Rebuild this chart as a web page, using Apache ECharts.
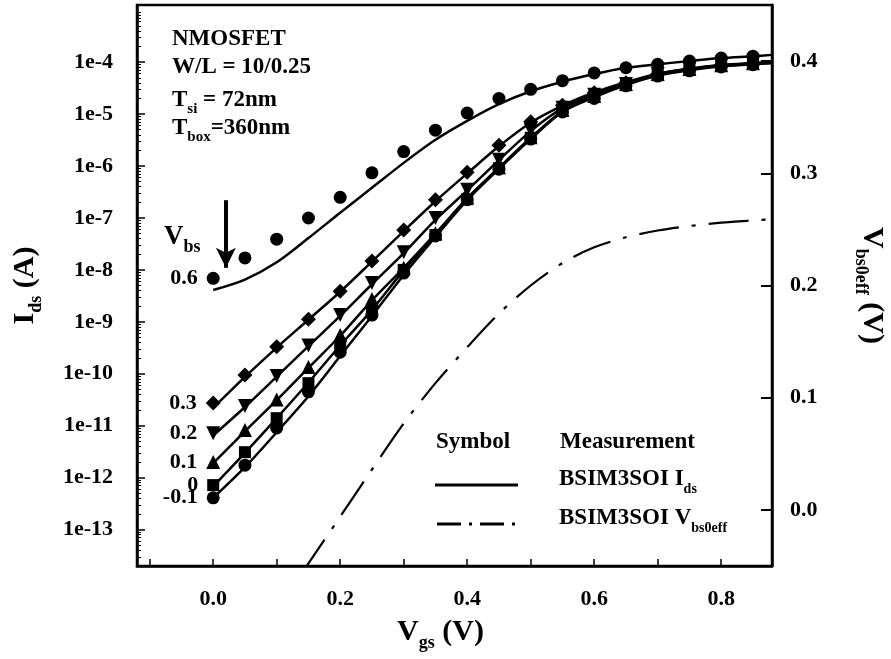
<!DOCTYPE html>
<html>
<head>
<meta charset="utf-8">
<script src="https://cdn.jsdelivr.net/npm/echarts@6/dist/echarts.min.js"></script>
<style>
  html, body { margin: 0; padding: 0; background: #fff; }
  #chart { width: 891px; height: 659px; }
</style>
</head>
<body>
<div id="chart"></div>
<script>
// Vgs sweep of the measurement points (V)
const vgsMeas = [0, 0.05, 0.1, 0.15, 0.2, 0.25, 0.3, 0.35, 0.4, 0.45, 0.5, 0.55, 0.6, 0.65, 0.7, 0.75, 0.8, 0.85];
// Vgs of the BSIM3SOI model curves (V)
const vgsModel = [0, 0.05, 0.1, 0.15, 0.2, 0.25, 0.3, 0.35, 0.4, 0.45, 0.5, 0.55, 0.6, 0.65, 0.7, 0.75, 0.8, 0.85, 0.88];

// measured Ids (A) for each Vbs
const measVbs06 = [6.9e-9, 1.7e-8, 3.9e-8, 1.0e-7, 2.5e-7, 7.4e-7, 1.9e-6, 4.9e-6, 1.05e-5, 2.0e-5, 3.0e-5, 4.4e-5, 6.2e-5, 7.8e-5, 9.1e-5, 1.05e-4, 1.2e-4, 1.3e-4];
const measVbs03 = [2.75e-11, 9.5e-11, 3.3e-10, 1.12e-9, 3.9e-9, 1.48e-8, 5.9e-8, 2.24e-7, 7.6e-7, 2.5e-6, 7.1e-6, 1.48e-5, 2.57e-5, 4.0e-5, 5.9e-5, 7.4e-5, 8.7e-5, 9.5e-5];
const measVbs02 = [7.2e-12, 2.4e-11, 9.1e-11, 3.5e-10, 1.35e-9, 5.6e-9, 2.2e-8, 1.0e-7, 3.5e-7, 1.32e-6, 4.9e-6, 1.32e-5, 2.35e-5, 3.8e-5, 5.9e-5, 7.4e-5, 8.7e-5, 9.5e-5];
const measVbs01 = [2.0e-12, 8.3e-12, 3.2e-11, 1.35e-10, 5.6e-10, 2.75e-9, 1.1e-8, 5.1e-8, 2.5e-7, 9.5e-7, 3.6e-6, 1.2e-5, 2.24e-5, 3.8e-5, 5.9e-5, 7.4e-5, 8.7e-5, 9.5e-5];
const measVbs0 = [7.2e-13, 3.1e-12, 1.4e-11, 6.6e-11, 3.4e-10, 1.55e-9, 1.0e-8, 4.7e-8, 2.3e-7, 9.1e-7, 3.5e-6, 1.15e-5, 2.14e-5, 3.6e-5, 5.6e-5, 7.1e-5, 8.5e-5, 9.3e-5];
const measVbsM01 = [4.1e-13, 1.74e-12, 9.1e-12, 4.5e-11, 2.6e-10, 1.35e-9, 8.7e-9, 4.5e-8, 2.24e-7, 8.7e-7, 3.3e-6, 1.1e-5, 2.0e-5, 3.5e-5, 5.4e-5, 6.8e-5, 8.1e-5, 8.9e-5];

// BSIM3SOI model Ids (A)
const modelVbs06 = [4.1e-9, 6.5e-9, 1.4e-8, 4.1e-8, 1.26e-7, 3.8e-7, 1.15e-6, 3.2e-6, 7.4e-6, 1.55e-5, 2.75e-5, 4.2e-5, 5.9e-5, 7.8e-5, 9.1e-5, 1.05e-4, 1.2e-4, 1.3e-4, 1.38e-4];
const modelVbs03 = [2.2e-11, 8.7e-11, 3.2e-10, 1.1e-9, 3.8e-9, 1.45e-8, 5.6e-8, 2.1e-7, 7.2e-7, 2.4e-6, 6.8e-6, 1.45e-5, 2.6e-5, 4.1e-5, 6.0e-5, 7.5e-5, 8.8e-5, 9.6e-5, 1.0e-4];
const modelVbs02 = [6.5e-12, 2.3e-11, 8.8e-11, 3.4e-10, 1.3e-9, 5.3e-9, 2.1e-8, 9.2e-8, 3.4e-7, 1.3e-6, 4.7e-6, 1.3e-5, 2.4e-5, 3.9e-5, 5.9e-5, 7.4e-5, 8.7e-5, 9.5e-5, 9.9e-5];
const modelVbs01 = [1.9e-12, 7.8e-12, 3.1e-11, 1.3e-10, 5.4e-10, 2.6e-9, 1.1e-8, 5.0e-8, 2.4e-7, 9.3e-7, 3.5e-6, 1.15e-5, 2.25e-5, 3.8e-5, 5.8e-5, 7.3e-5, 8.6e-5, 9.4e-5, 9.8e-5];
const modelVbs0 = [6.8e-13, 3.0e-12, 1.4e-11, 6.8e-11, 3.5e-10, 1.7e-9, 9.8e-9, 4.6e-8, 2.3e-7, 9.0e-7, 3.4e-6, 1.12e-5, 2.2e-5, 3.7e-5, 5.7e-5, 7.2e-5, 8.5e-5, 9.3e-5, 9.7e-5];
const modelVbsM01 = [4.1e-13, 1.6e-12, 7.5e-12, 3.7e-11, 2.2e-10, 1.3e-9, 8.0e-9, 4.3e-8, 2.2e-7, 8.8e-7, 3.3e-6, 1.1e-5, 2.1e-5, 3.6e-5, 5.5e-5, 7.0e-5, 8.3e-5, 9.1e-5, 9.5e-5];

// BSIM3SOI Vbs0eff (V), right axis
const vgsVeff = [0.14, 0.2, 0.25, 0.3, 0.35, 0.4, 0.45, 0.5, 0.55, 0.6, 0.65, 0.7, 0.75, 0.8, 0.85, 0.88];
const vbs0eff = [-0.056, -0.006, 0.036, 0.077, 0.113, 0.145, 0.175, 0.2, 0.22, 0.234, 0.243, 0.249, 0.253, 0.256, 0.258, 0.259];

// axis ticks
const xTicks = [-0.1, 0, 0.1, 0.2, 0.3, 0.4, 0.5, 0.6, 0.7, 0.8];
const xLabels = [0, 0.2, 0.4, 0.6, 0.8];
const idsExponents = [-13, -12, -11, -10, -9, -8, -7, -6, -5, -4];
const veffTicks = [0, 0.1, 0.2, 0.3, 0.4];

const FONT = '"Liberation Serif", "Times New Roman", serif';

// minor ticks of the log axis (2..9 x 10^n)
const idsMinor = [];
for (let n = -14; n <= -3; n++) {
  for (let k = 2; k <= 9; k++) {
    const v = n + Math.log10(k);
    if (v > -13.7 && v < -2.9) idsMinor.push(v);
  }
}

const toLog = (xs, ys) => xs.map((x, i) => [x, Math.log10(ys[i])]);

function measSeries(name, ys, symbol, size, tag, extra) {
  const data = toLog(vgsMeas, ys);
  data[0] = {
    value: data[0],
    label: {
      show: true, position: 'left', distance: 9, formatter: tag,
      color: '#000', fontFamily: FONT, fontWeight: 'bold', fontSize: 22
    }
  };
  return Object.assign({
    name: name,
    type: 'scatter',
    yAxisIndex: 0,
    symbol: symbol,
    symbolSize: size,
    itemStyle: { color: '#000', opacity: 1 },
    data: data,
    z: 4
  }, extra || {});
}

function modelSeries(name, ys) {
  return {
    name: name,
    type: 'line',
    yAxisIndex: 0,
    showSymbol: false,
    smooth: 0.3,
    lineStyle: { color: '#000', width: 2.5 },
    data: toLog(vgsModel, ys),
    z: 3
  };
}

const subRich = (big, small) => ({
  a: { fontFamily: FONT, fontWeight: 'bold', fontSize: big, color: '#000', lineHeight: big + 10 },
  s: { fontFamily: FONT, fontWeight: 'bold', fontSize: small, color: '#000', verticalAlign: 'bottom' }
});

const chart = echarts.init(document.getElementById('chart'));

const option = {
  animation: false,
  backgroundColor: '#fff',
  grid: {
    left: 137, right: 119, top: 5, bottom: 93,
    outerBoundsMode: 'none',
    show: true, borderColor: '#000', borderWidth: 2.5
  },
  xAxis: {
    type: 'value',
    min: -0.12, max: 0.88,
    name: '{a|V}{s|gs}{a| (V)}',
    nameLocation: 'middle',
    nameGap: 46,
    nameTextStyle: { rich: subRich(30, 18), padding: [0, 28, 0, 0] },
    axisLine: { onZero: false, lineStyle: { color: '#000', width: 2.5 } },
    axisTick: { inside: true, length: 7, customValues: xTicks, lineStyle: { color: '#000', width: 1.5 } },
    axisLabel: {
      customValues: xLabels, margin: 22,
      formatter: v => v.toFixed(1),
      color: '#000', fontFamily: FONT, fontWeight: 'bold', fontSize: 22
    },
    splitLine: { show: false }
  },
  yAxis: [
    {
      type: 'value',
      position: 'left',
      min: -13.7, max: -2.9,
      name: '{a|I}{s|ds}{a| (A)}',
      nameLocation: 'middle',
      nameGap: 92,
      nameTextStyle: { rich: subRich(30, 18) },
      axisLine: { onZero: false, lineStyle: { color: '#000', width: 2.5 } },
      axisTick: { inside: true, length: 8, customValues: idsExponents, lineStyle: { color: '#000', width: 1.5 } },
      axisLabel: {
        customValues: idsExponents, margin: 24,
        formatter: v => '1e' + v,
        color: '#000', fontFamily: FONT, fontWeight: 'bold', fontSize: 22
      },
      splitLine: { show: false }
    },
    {
      type: 'value',
      position: 'right',
      min: -0.05, max: 0.45,
      name: '{a|V}{s|bs0eff}{a| (V)}',
      nameLocation: 'middle',
      nameRotate: -90,
      nameGap: 80,
      nameTextStyle: { rich: subRich(30, 18) },
      axisLine: { onZero: false, lineStyle: { color: '#000', width: 2.5 } },
      axisTick: { inside: true, length: 11, customValues: veffTicks, lineStyle: { color: '#000', width: 2 } },
      axisLabel: {
        customValues: veffTicks, margin: 18,
        formatter: v => v.toFixed(1),
        color: '#000', fontFamily: FONT, fontWeight: 'bold', fontSize: 22
      },
      splitLine: { show: false }
    },
    {
      // minor ticks of the log current axis
      type: 'value',
      position: 'left',
      min: -13.7, max: -2.9,
      axisLine: { show: false, onZero: false },
      axisTick: { inside: true, length: 4, customValues: idsMinor, lineStyle: { color: '#000', width: 1 } },
      axisLabel: { show: false },
      splitLine: { show: false }
    }
  ],
  series: [
    modelSeries('model 0.6', modelVbs06),
    modelSeries('model 0.3', modelVbs03),
    modelSeries('model 0.2', modelVbs02),
    modelSeries('model 0.1', modelVbs01),
    modelSeries('model 0', modelVbs0),
    modelSeries('model -0.1', modelVbsM01),
    measSeries('meas 0.6', measVbs06, 'circle', 13, '0.6', {
      markLine: {
        silent: true,
        symbol: ['none', 'arrow'],
        symbolSize: [15, 20],
        label: { show: false },
        lineStyle: { color: '#000', width: 4, type: 'solid' },
        data: [[{ coord: [0.02, Math.log10(2.2e-7)] }, { coord: [0.02, Math.log10(1.1e-8)] }]]
      }
    }),
    measSeries('meas 0.3', measVbs03, 'diamond', 15, '0.3'),
    measSeries('meas 0.2', measVbs02, 'triangle', 14, '0.2', { symbolRotate: 180 }),
    measSeries('meas 0.1', measVbs01, 'triangle', 14, '0.1'),
    measSeries('meas 0', measVbs0, 'rect', 12, '0'),
    measSeries('meas -0.1', measVbsM01, 'circle', 13, '-0.1'),
    {
      name: 'Vbs0eff',
      type: 'line',
      yAxisIndex: 1,
      showSymbol: false,
      smooth: 0.3,
      lineStyle: { color: '#000', width: 2.2, type: [40, 13, 4, 13] },
      data: vgsVeff.map((x, i) => [x, vbs0eff[i]]),
      z: 2
    }
  ],
  graphic: [
    {
      type: 'group', left: 172, top: 28,
      children: [
        { type: 'text', x: 0, y: 0, style: { text: 'NMOSFET', font: 'bold 23px ' + FONT, fill: '#000' } },
        { type: 'text', x: 0, y: 28, style: { text: 'W/L = 10/0.25', font: 'bold 23px ' + FONT, fill: '#000' } },
        { type: 'text', x: 0, y: 56, style: { text: '{a|T}{s|si}{a| = 72nm}', rich: subRich(23, 15) } },
        { type: 'text', x: 0, y: 84, style: { text: '{a|T}{s|box}{a|=360nm}', rich: subRich(23, 15) } }
      ]
    },
    { type: 'text', left: 164, top: 224, style: { text: '{a|V}{s|bs}', rich: subRich(27, 18) } },
    // legend box
    { type: 'text', left: 436, top: 431, style: { text: 'Symbol', font: 'bold 23px ' + FONT, fill: '#000' } },
    { type: 'text', left: 560, top: 431, style: { text: 'Measurement', font: 'bold 23px ' + FONT, fill: '#000' } },
    { type: 'line', shape: { x1: 435, y1: 485, x2: 518, y2: 485 }, style: { stroke: '#000', lineWidth: 3 } },
    { type: 'text', left: 559, top: 468, style: { text: '{a|BSIM3SOI I}{s|ds}', rich: subRich(23, 14) } },
    { type: 'line', shape: { x1: 437, y1: 524, x2: 520, y2: 524 }, style: { stroke: '#000', lineWidth: 3, lineDash: [24, 8, 3, 8] } },
    { type: 'text', left: 559, top: 507, style: { text: '{a|BSIM3SOI V}{s|bs0eff}', rich: subRich(23, 14) } }
  ]
};

chart.setOption(option);
</script>
</body>
</html>
